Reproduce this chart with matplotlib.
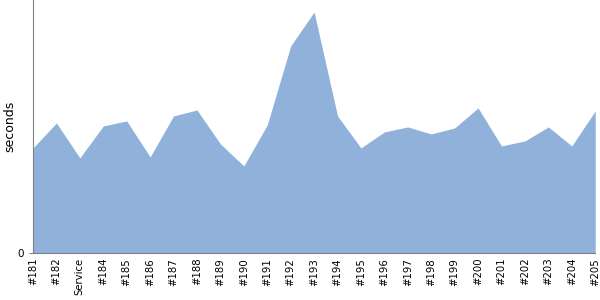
import matplotlib
matplotlib.use('Agg')
import matplotlib.pyplot as plt
import numpy as np

builds = ['#181', '#182', 'Service', '#184', '#185', '#186', '#187', '#188',
          '#189', '#190', '#191', '#192', '#193', '#194', '#195', '#196',
          '#197', '#198', '#199', '#200', '#201', '#202', '#203', '#204', '#205']
# build durations (seconds)
durations = [105, 130, 95, 127, 132, 96, 137, 143, 109, 87, 128, 207, 241,
             137, 105, 121, 126, 119, 125, 145, 107, 112, 126, 107, 142]

fig = plt.figure(figsize=(6, 3), dpi=100)
ax = fig.add_axes([0.055, 0.157, 0.937, 0.843])

x = np.arange(len(builds))
ax.fill_between(x, durations, 0, color='#8fb1da', linewidth=0)

ax.set_xlim(0, len(builds) - 1)
ax.set_ylim(0, 253)
ax.set_yticks([0])
ax.set_xticks(x)
ax.set_xticklabels(builds, rotation=90, fontsize=7.3, va='top', ha='center')
ax.tick_params(axis='y', labelsize=7.5, length=3, color='#808080')
ax.tick_params(axis='x', length=0, pad=3.5)
ax.set_ylabel('seconds', fontsize=9, labelpad=1)

for side in ['top', 'right']:
    ax.spines[side].set_visible(False)
for side in ['left', 'bottom']:
    ax.spines[side].set_color('#808080')

fig.savefig('out.png', dpi=100)
